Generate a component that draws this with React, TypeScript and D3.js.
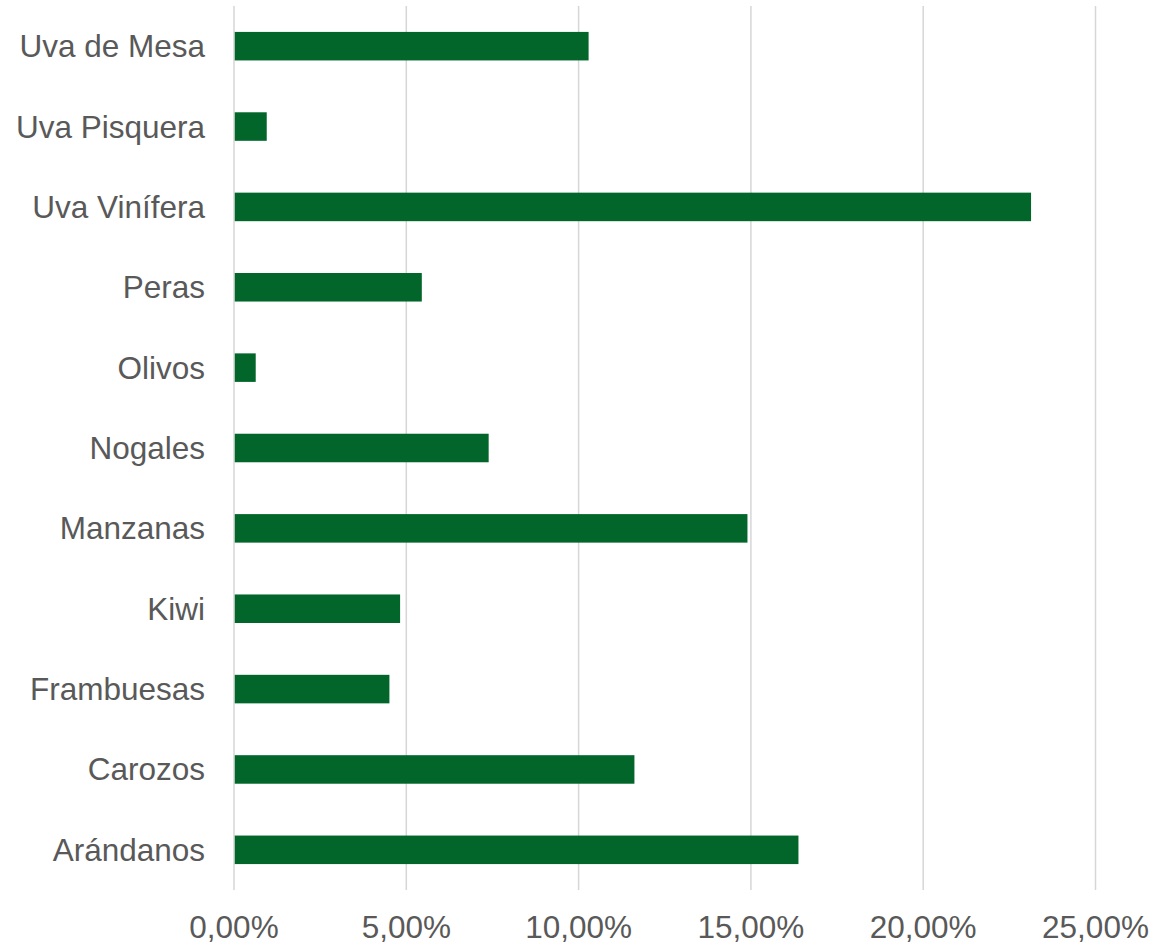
import React from "react";
import * as d3 from "d3";

const categories = [
  "Uva de Mesa",
  "Uva Pisquera",
  "Uva Vinífera",
  "Peras",
  "Olivos",
  "Nogales",
  "Manzanas",
  "Kiwi",
  "Frambuesas",
  "Carozos",
  "Arándanos",
];
const values = [10.29, 0.95, 23.13, 5.45, 0.63, 7.39, 14.9, 4.82, 4.51, 11.62, 16.38];
const ticks = [0, 5, 10, 15, 20, 25];

const W = 1165;
const H = 952;
const left = 234;
const right = 1095.5;
const top = 6;
const bottom = 890;
const font = "'Liberation Sans', Arial, sans-serif";
const textColor = "#595959";
const barColor = "#02662B";

export default function App() {
  const x = d3.scaleLinear().domain([0, 25]).range([left, right]);
  const y = d3
    .scaleBand<string>()
    .domain(categories)
    .range([top, bottom])
    .paddingInner(0.645)
    .paddingOuter(0.3225);
  const fmt = (v: number) => v.toFixed(2).replace(".", ",") + "%";

  return (
    <svg
      width={W}
      height={H}
      style={{ position: "absolute", left: 0, top: 0, background: "#fff" }}
    >
      <g>
        {ticks.map((t) => (
          <line
            key={"g" + t}
            x1={x(t)}
            x2={x(t)}
            y1={top}
            y2={bottom}
            stroke="#d6d6d6"
            strokeWidth={1.5}
          />
        ))}
      </g>
      <g>
        {categories.map((c, i) => (
          <rect
            key={c}
            x={x(0) + 0.75}
            y={y(c)!}
            width={x(values[i]) - x(0) - 0.75}
            height={y.bandwidth()}
            fill={barColor}
          />
        ))}
      </g>
      <g fontFamily={font} fontSize={31.5} fill={textColor}>
        {categories.map((c) => (
          <text
            key={"l" + c}
            x={205}
            y={y(c)! + y.bandwidth() / 2 + 11}
            textAnchor="end"
          >
            {c}
          </text>
        ))}
        {ticks.map((t) => (
          <text key={"t" + t} x={x(t)} y={938} textAnchor="middle">
            {fmt(t)}
          </text>
        ))}
      </g>
    </svg>
  );
}
